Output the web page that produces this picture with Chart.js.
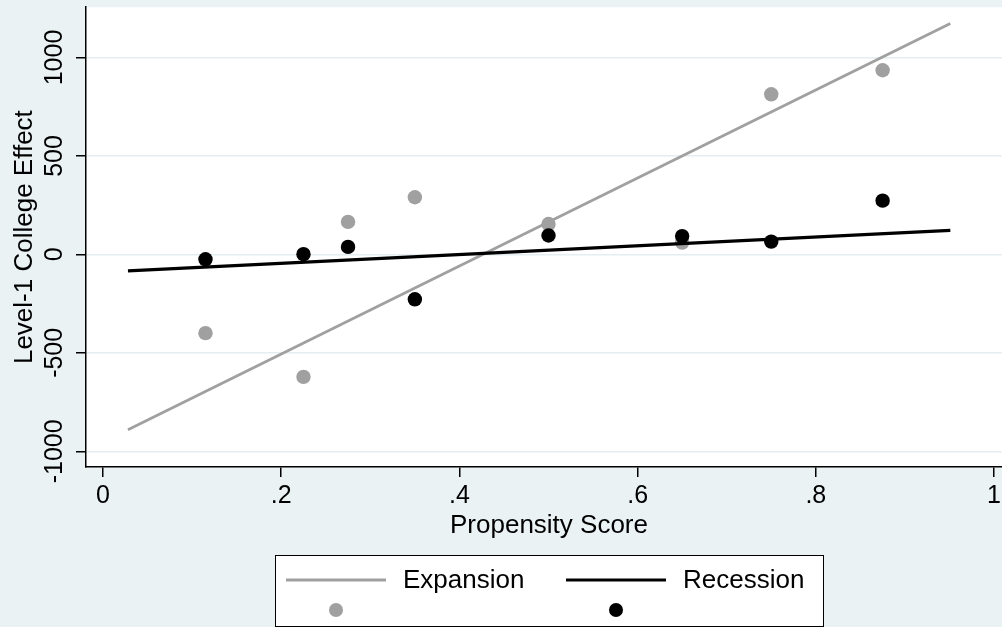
<!DOCTYPE html>
<html>
<head>
<meta charset="utf-8">
<script src="https://cdn.jsdelivr.net/npm/chart.js@4/dist/chart.umd.min.js"></script>
<style>
  html, body { margin: 0; padding: 0; background: #EAF2F3; overflow: hidden; }
  canvas { display: block; }
</style>
</head>
<body>
<canvas id="chart" width="1030" height="627"></canvas>
<script>
// Propensity-score bins and the estimated level-1 college effect in each bin
const propensityScore = [0.115, 0.225, 0.275, 0.35, 0.5, 0.65, 0.75, 0.875];
const expansionEffect = [-400, -622, 165, 290, 154, 60, 813, 935];
const recessionEffect = [-25, 1, 38, -228, 96, 93, 65, 273];

// Linear fit lines: endpoints over the observed score range
const fitScore = [0.028, 0.951];
const expansionFit = [-890, 1172];
const recessionFit = [-84, 122];

const seriesNames = ['Expansion', 'Recession'];
const xTickValues = [0, 0.2, 0.4, 0.6, 0.8, 1];
const xTickLabels = ['0', '.2', '.4', '.6', '.8', '1'];
const yTickValues = [-1000, -500, 0, 500, 1000];

const GREY = '#A0A0A0';
const BLACK = '#000000';
const FONT = '"Liberation Sans", Arial, Helvetica, sans-serif';

const pairs = (xs, ys) => xs.map((x, i) => ({ x, y: ys[i] }));

const plotBackground = {
  id: 'plotBackground',
  beforeDraw(chart) {
    const { ctx, chartArea: a } = chart;
    ctx.save();
    ctx.fillStyle = '#EAF2F3';
    ctx.fillRect(0, 0, chart.width, chart.height);
    ctx.fillStyle = '#FFFFFF';
    ctx.fillRect(a.left, a.top, a.right - a.left, a.bottom - a.top);
    ctx.restore();
  }
};

// Two-row key: fit line with label on top, marker underneath
const keyLegend = {
  id: 'keyLegend',
  afterDraw(chart) {
    const ctx = chart.ctx;
    const box = { x: 275, y: 555, w: 548, h: 71 };
    const colors = [GREY, BLACK];
    ctx.save();
    ctx.fillStyle = '#FFFFFF';
    ctx.fillRect(box.x, box.y, box.w, box.h);
    ctx.strokeStyle = '#000000';
    ctx.lineWidth = 1;
    ctx.strokeRect(box.x + 0.5, box.y + 0.5, box.w, box.h);
    seriesNames.forEach((name, i) => {
      const x0 = box.x + 11 + i * 280;
      const lineY = box.y + 25;
      ctx.strokeStyle = colors[i];
      ctx.lineWidth = i === 0 ? 2.8 : 3.2;
      ctx.beginPath();
      ctx.moveTo(x0, lineY);
      ctx.lineTo(x0 + 100, lineY);
      ctx.stroke();
      ctx.fillStyle = '#000000';
      ctx.font = '26px ' + FONT;
      ctx.textBaseline = 'middle';
      ctx.textAlign = 'left';
      ctx.fillText(name, x0 + 117, lineY + 1);
      ctx.fillStyle = colors[i];
      ctx.beginPath();
      ctx.arc(x0 + 50, box.y + 55, 7, 0, Math.PI * 2);
      ctx.fill();
    });
    ctx.restore();
  }
};

new Chart(document.getElementById('chart'), {
  type: 'scatter',
  data: {
    datasets: [
      {
        label: seriesNames[0],
        data: pairs(propensityScore, expansionEffect),
        backgroundColor: GREY, borderColor: GREY,
        pointRadius: 7.2, pointBorderWidth: 0, order: 4
      },
      {
        label: seriesNames[1],
        data: pairs(propensityScore, recessionEffect),
        backgroundColor: BLACK, borderColor: BLACK,
        pointRadius: 7.2, pointBorderWidth: 0, order: 3
      },
      {
        label: seriesNames[0] + ' fit',
        data: pairs(fitScore, expansionFit),
        showLine: true, borderColor: GREY, borderWidth: 2.8,
        pointRadius: 0, order: 2
      },
      {
        label: seriesNames[1] + ' fit',
        data: pairs(fitScore, recessionFit),
        showLine: true, borderColor: BLACK, borderWidth: 3.2,
        pointRadius: 0, order: 1
      }
    ]
  },
  options: {
    responsive: false,
    animation: false,
    devicePixelRatio: 1,
    layout: { padding: { left: 0, top: 7, right: 18, bottom: 0 } },
    plugins: { legend: { display: false }, tooltip: { enabled: false } },
    scales: {
      x: {
        type: 'linear',
        min: -0.0191,
        max: 1.0202,
        afterBuildTicks: s => { s.ticks = xTickValues.map(v => ({ value: v })); },
        afterFit: s => { s.height = 160; },
        border: { display: true, color: '#000', width: 1.5 },
        grid: { drawOnChartArea: false, drawTicks: true, tickLength: 10, tickColor: '#000', lineWidth: 1.5 },
        ticks: {
          autoSkip: false, maxRotation: 0, padding: 4,
          color: '#000', font: { family: FONT, size: 25 },
          callback: (v) => xTickLabels[xTickValues.indexOf(v)] ?? ''
        },
        title: {
          display: true, text: 'Propensity Score', color: '#000',
          font: { family: FONT, size: 26 }, padding: { top: 0, bottom: 86 }
        }
      },
      y: {
        type: 'linear',
        min: -1079.7,
        max: 1255.3,
        afterBuildTicks: s => { s.ticks = yTickValues.map(v => ({ value: v })); },
        afterFit: s => { s.width = 86; },
        border: { display: true, color: '#000', width: 1.5 },
        grid: { drawOnChartArea: true, color: '#E4EDEF', lineWidth: 1.5, tickLength: 10, tickColor: '#000' },
        ticks: {
          autoSkip: false, minRotation: 90, maxRotation: 90, crossAlign: 'center', padding: -11,
          color: '#000', font: { family: FONT, size: 25 },
          callback: (v) => String(v)
        },
        title: {
          display: true, text: 'Level-1 College Effect', color: '#000',
          font: { family: FONT, size: 26 }, padding: { top: 9, bottom: 0 }
        }
      }
    }
  },
  plugins: [plotBackground, keyLegend]
});
</script>
</body>
</html>
